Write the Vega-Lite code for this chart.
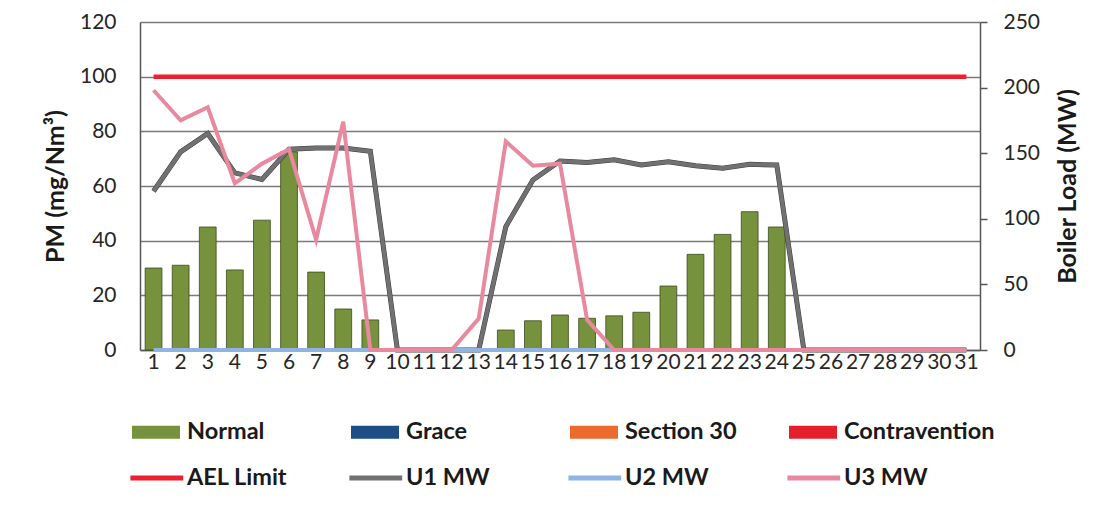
{
  "$schema": "https://vega.github.io/schema/vega-lite/v6.json",
  "width": 840,
  "height": 328,
  "autosize": {"type": "none"},
  "padding": {"left": 140, "top": 22, "right": 122, "bottom": 157},
  "background": "white",
  "config": {
    "font": "Lato",
    "view": {"stroke": null},
    "axis": {"labelFont": "Lato", "titleFont": "Lato"},
    "legend": {
      "orient": "none",
      "legendX": -8,
      "legendY": 394,
      "direction": "horizontal",
      "columns": 4,
      "gridAlign": "all",
      "columnPadding": 11,
      "rowPadding": 18,
      "padding": 0,
      "symbolSize": 1024,
      "labelFont": "Lato",
      "labelFontSize": 23.5,
      "labelFontWeight": "bold",
      "labelColor": "#1a1a1a",
      "labelOffset": 23,
      "labelLimit": 400
    }
  },
  "data": {
    "values": [
      {"day": 1, "pm": 30, "ael": 100, "U1 MW": 121, "U2 MW": 0, "U3 MW": 198},
      {"day": 2, "pm": 31, "ael": 100, "U1 MW": 151, "U2 MW": 0, "U3 MW": 175},
      {"day": 3, "pm": 45, "ael": 100, "U1 MW": 165, "U2 MW": 0, "U3 MW": 185},
      {"day": 4, "pm": 29.3, "ael": 100, "U1 MW": 135, "U2 MW": 0, "U3 MW": 127},
      {"day": 5, "pm": 47.5, "ael": 100, "U1 MW": 130, "U2 MW": 0, "U3 MW": 142},
      {"day": 6, "pm": 72.5, "ael": 100, "U1 MW": 153, "U2 MW": 0, "U3 MW": 153},
      {"day": 7, "pm": 28.5, "ael": 100, "U1 MW": 154, "U2 MW": 0, "U3 MW": 84},
      {"day": 8, "pm": 15, "ael": 100, "U1 MW": 154, "U2 MW": 0, "U3 MW": 174},
      {"day": 9, "pm": 11, "ael": 100, "U1 MW": 151.5, "U2 MW": 0, "U3 MW": 0},
      {"day": 10, "pm": null, "ael": 100, "U1 MW": 0, "U2 MW": 0, "U3 MW": 0},
      {"day": 11, "pm": null, "ael": 100, "U1 MW": 0, "U2 MW": 0, "U3 MW": 0},
      {"day": 12, "pm": null, "ael": 100, "U1 MW": 0, "U2 MW": 0, "U3 MW": 0},
      {"day": 13, "pm": null, "ael": 100, "U1 MW": 0, "U2 MW": 0, "U3 MW": 24},
      {"day": 14, "pm": 7.3, "ael": 100, "U1 MW": 94, "U2 MW": 0, "U3 MW": 159},
      {"day": 15, "pm": 10.7, "ael": 100, "U1 MW": 129.6, "U2 MW": 0, "U3 MW": 140.5},
      {"day": 16, "pm": 12.8, "ael": 100, "U1 MW": 144, "U2 MW": 0, "U3 MW": 142},
      {"day": 17, "pm": 11.6, "ael": 100, "U1 MW": 143, "U2 MW": 0, "U3 MW": 23},
      {"day": 18, "pm": 12.5, "ael": 100, "U1 MW": 145, "U2 MW": 0, "U3 MW": 0},
      {"day": 19, "pm": 13.8, "ael": 100, "U1 MW": 141, "U2 MW": 0, "U3 MW": 0},
      {"day": 20, "pm": 23.4, "ael": 100, "U1 MW": 143.5, "U2 MW": 0, "U3 MW": 0},
      {"day": 21, "pm": 35, "ael": 100, "U1 MW": 140.5, "U2 MW": 0, "U3 MW": 0},
      {"day": 22, "pm": 42.3, "ael": 100, "U1 MW": 138.5, "U2 MW": 0, "U3 MW": 0},
      {"day": 23, "pm": 50.6, "ael": 100, "U1 MW": 141.5, "U2 MW": 0, "U3 MW": 0},
      {"day": 24, "pm": 45, "ael": 100, "U1 MW": 141, "U2 MW": 0, "U3 MW": 0},
      {"day": 25, "pm": null, "ael": 100, "U1 MW": 0, "U2 MW": 0, "U3 MW": 0},
      {"day": 26, "pm": null, "ael": 100, "U1 MW": 0, "U2 MW": 0, "U3 MW": 0},
      {"day": 27, "pm": null, "ael": 100, "U1 MW": 0, "U2 MW": 0, "U3 MW": 0},
      {"day": 28, "pm": null, "ael": 100, "U1 MW": 0, "U2 MW": 0, "U3 MW": 0},
      {"day": 29, "pm": null, "ael": 100, "U1 MW": 0, "U2 MW": 0, "U3 MW": 0},
      {"day": 30, "pm": null, "ael": 100, "U1 MW": 0, "U2 MW": 0, "U3 MW": 0},
      {"day": 31, "pm": null, "ael": 100, "U1 MW": 0, "U2 MW": 0, "U3 MW": 0}
    ]
  },
  "encoding": {
    "x": {
      "field": "day",
      "type": "ordinal",
      "scale": {"paddingInner": 0.38, "paddingOuter": 0.19},
      "axis": {
        "title": null,
        "labelAngle": 0,
        "labelFontSize": 21,
        "labelColor": "#262626",
        "labelOverlap": false,
        "labelPadding": 1,
        "ticks": false,
        "domain": true,
        "domainColor": "#555555",
        "domainWidth": 1.5
      }
    }
  },
  "layer": [
    {
      "layer": [
        {
          "mark": {"type": "bar", "stroke": "#3b4a1c", "strokeWidth": 0.8},
          "encoding": {
            "y": {
              "field": "pm",
              "type": "quantitative",
              "scale": {"domain": [0, 120]},
              "axis": {
                "values": [0, 20, 40, 60, 80, 100, 120],
                "title": "PM (mg/Nm³)",
                "titleFontSize": 25,
                "titleFontWeight": "bold",
                "titleColor": "#1a1a1a",
                "titlePadding": 11,
                "labelFontSize": 21,
                "labelColor": "#262626",
                "labelPadding": 24,
                "ticks": false,
                "grid": true,
                "gridColor": "#7a7a7a",
                "gridWidth": 1.3,
                "domain": true,
                "domainColor": "#555555",
                "domainWidth": 1.5
              }
            },
            "color": {
              "datum": "Normal",
              "type": "nominal",
              "scale": {
                "domain": ["Normal", "Grace", "Section 30", "Contravention", "AEL Limit", "U1 MW", "U2 MW", "U3 MW"],
                "range": ["#76923c", "#1f4e85", "#ec6a2c", "#e6202a", "#ee1f2f", "#717171", "#8fb4e3", "#e8899f"]
              },
              "legend": {
                "title": null,
                "encode": {
                  "symbols": {
                    "update": {
                      "shape": {"signal": "indexof(['AEL Limit','U1 MW','U2 MW','U3 MW'], datum.value) >= 0 ? 'M-1.1,-0.16H2.2V0.16H-1.1Z' : 'M-1,-0.4H2V0.4H-1Z'"},
                      "fill": {"scale": "color", "field": "value"},
                      "stroke": {"value": "transparent"},
                      "strokeWidth": {"value": 0},
                      "opacity": {"value": 1},
                      "fillOpacity": {"value": 1}
                    }
                  }
                }
              }
            }
          }
        },
        {
          "mark": {"type": "line", "strokeWidth": 4.5},
          "encoding": {
            "y": {"field": "ael", "type": "quantitative"},
            "color": {
              "datum": "AEL Limit",
              "type": "nominal",
              "legend": {
                "title": null,
                "encode": {
                  "symbols": {
                    "update": {
                      "shape": {"signal": "indexof(['AEL Limit','U1 MW','U2 MW','U3 MW'], datum.value) >= 0 ? 'M-1.1,-0.16H2.2V0.16H-1.1Z' : 'M-1,-0.4H2V0.4H-1Z'"},
                      "fill": {"scale": "color", "field": "value"},
                      "stroke": {"value": "transparent"},
                      "strokeWidth": {"value": 0},
                      "opacity": {"value": 1},
                      "fillOpacity": {"value": 1}
                    }
                  }
                }
              }
            }
          }
        }
      ]
    },
    {
      "transform": [{"fold": ["U1 MW", "U2 MW", "U3 MW"], "as": ["series", "load"]}],
      "encoding": {
        "y": {
          "field": "load",
          "type": "quantitative",
          "scale": {"domain": [0, 250]},
          "axis": {
            "orient": "right",
            "values": [0, 50, 100, 150, 200, 250],
            "title": "Boiler Load (MW)",
            "titleAngle": 270,
            "titleBaseline": "top",
            "titleFontSize": 25,
            "titleFontWeight": "bold",
            "titleColor": "#1a1a1a",
            "titlePadding": 16,
            "labelFontSize": 21,
            "labelColor": "#262626",
            "labelPadding": 16,
            "ticks": true,
            "tickSize": 7,
            "tickColor": "#555555",
            "tickWidth": 1.5,
            "grid": false,
            "domain": true,
            "domainColor": "#555555",
            "domainWidth": 1.5
          }
        }
      },
      "layer": [
        {
          "transform": [{"filter": "datum.series == 'U1 MW'"}],
          "mark": {"type": "line", "strokeWidth": 5, "stroke": "#3e3e3e"},
          "encoding": {}
        },
        {
          "mark": {"type": "line", "strokeWidth": 4},
          "encoding": {
            "strokeWidth": {
              "field": "series",
              "type": "nominal",
              "scale": {"domain": ["U1 MW", "U2 MW", "U3 MW"], "range": [2.6, 4, 4.5]},
              "legend": null
            },
            "color": {
              "field": "series",
              "type": "nominal",
              "legend": {
                "title": null,
                "encode": {
                  "symbols": {
                    "update": {
                      "shape": {"signal": "indexof(['AEL Limit','U1 MW','U2 MW','U3 MW'], datum.value) >= 0 ? 'M-1.1,-0.16H2.2V0.16H-1.1Z' : 'M-1,-0.4H2V0.4H-1Z'"},
                      "fill": {"scale": "color", "field": "value"},
                      "stroke": {"value": "transparent"},
                      "strokeWidth": {"value": 0},
                      "opacity": {"value": 1},
                      "fillOpacity": {"value": 1}
                    }
                  }
                }
              }
            }
          }
        }
      ]
    }
  ],
  "resolve": {"scale": {"y": "independent"}}
}
